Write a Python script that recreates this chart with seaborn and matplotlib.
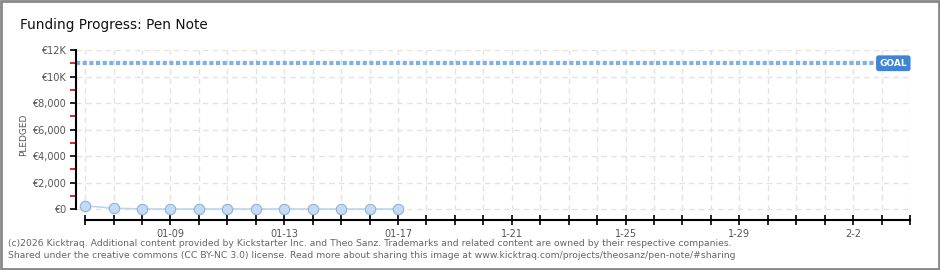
import matplotlib
matplotlib.use("Agg")
import matplotlib.pyplot as plt
import matplotlib.dates as mdates
import seaborn as sns
import pandas as pd
import numpy as np

# ---- data ----
dates = ["2026-01-06", "2026-01-07", "2026-01-08", "2026-01-09", "2026-01-10", "2026-01-11",
         "2026-01-12", "2026-01-13", "2026-01-14", "2026-01-15", "2026-01-16", "2026-01-17"]
pledged = [240, 60, 0, 0, 0, 0, 0, 0, 0, 0, 0, 0]
goal = 11000
xtick_dates = ["2026-01-09", "2026-01-13", "2026-01-17", "2026-01-21", "2026-01-25", "2026-01-29", "2026-02-02"]
xtick_labels = ["01-09", "01-13", "01-17", "1-21", "1-25", "1-29", "2-2"]
ytick_values = [0, 2000, 4000, 6000, 8000, 10000, 12000]
ytick_labels = ["€0", "€2,000", "€4,000", "€6,000", "€8,000", "€10K", "€12K"]
x_start, x_end = "2026-01-06", "2026-02-04"
title = "Funding Progress: Pen Note"
footer1 = ("(c)2026 Kicktraq. Additional content provided by Kickstarter Inc. and Theo Sanz. "
           "Trademarks and related content are owned by their respective companies.")
footer2 = ("Shared under the creative commons (CC BY-NC 3.0) license. Read more about sharing "
           "this image at www.kicktraq.com/projects/theosanz/pen-note/#sharing")

df = pd.DataFrame({"date": pd.to_datetime(dates), "pledged": pledged})

sns.set_theme(style="white")
plt.rcParams["font.family"] = ["DejaVu Sans"]

W, H = 940, 270
fig = plt.figure(figsize=(W / 100, H / 100), dpi=100)
ax = fig.add_axes([76 / W, 1 - 220 / H, (910 - 76) / W, (220 - 50) / H])

x0 = mdates.date2num(pd.Timestamp(x_start))
x1 = mdates.date2num(pd.Timestamp(x_end))
ax.set_xlim(x0 - 0.32, x1)
ax.set_ylim(-830, 12000)

all_days = pd.date_range(x_start, x_end, freq="D")

# grid
for d in all_days:
    ax.axvline(mdates.date2num(d), ymin=0.06, color="#e3e3e3", lw=1, ls=(0, (4, 3)), zorder=0)
for v in ytick_values:
    ax.axhline(v, color="#e3e3e3", lw=1, ls=(0, (4, 3)), zorder=0)

# goal line
ax.axhline(goal, color="#7fb0e8", lw=3, ls=(0, (1, 0.6)), zorder=2)
ax.text(x1 - 0.1, goal, "GOAL", color="white", fontsize=6.5, fontweight="bold",
        ha="right", va="center", zorder=4,
        bbox=dict(boxstyle="round,pad=0.3,rounding_size=0.2", fc="#3d85d6", ec="#3d85d6"))

# data
sns.lineplot(data=df, x="date", y="pledged", ax=ax, color="#b9d5f2", lw=1.2,
             marker="o", markersize=7.5, markerfacecolor="#c3dbf5",
             markeredgecolor="#8fb1d9", markeredgewidth=0.8, zorder=3)

ax.set_xlabel("")
ax.set_ylabel("PLEDGED", fontsize=6.5, color="#555555", labelpad=3)

# ticks: labelled days as major, the rest as minor
ax.set_xticks(mdates.date2num(pd.to_datetime(xtick_dates)))
ax.set_xticklabels(xtick_labels)
ax.set_xticks(mdates.date2num(all_days), minor=True)
ax.tick_params(axis="x", which="both", direction="inout", length=7, width=1.2, color="black", bottom=True)
ax.tick_params(axis="x", which="major", pad=3, labelsize=7, labelcolor="#555555")

ax.set_yticks(ytick_values)
ax.set_yticklabels(ytick_labels)
ax.set_yticks(np.arange(1000, 12000, 2000), minor=True)
ax.tick_params(axis="y", which="major", direction="out", length=4, width=1.2, color="black", left=True,
               labelsize=7, labelcolor="#555555", pad=3)
ax.tick_params(axis="y", which="minor", direction="out", length=4, width=1.2, color="#e00000", left=True)

for s in ["top", "right"]:
    ax.spines[s].set_visible(False)
ax.spines["left"].set_color("black")
ax.spines["left"].set_linewidth(1.5)
ax.spines["left"].set_bounds(0, 12000)
ax.spines["bottom"].set_color("black")
ax.spines["bottom"].set_linewidth(1.5)
ax.spines["bottom"].set_bounds(x0, x1)

# title and footer
fig.text(20 / W, 1 - 25 / H, title, fontsize=9.8, color="#111111", va="center", ha="left")
fig.text(8 / W, 1 - 243 / H, footer1, fontsize=6.65, color="#666666", va="center", ha="left")
fig.text(8 / W, 1 - 256 / H, footer2, fontsize=6.65, color="#666666", va="center", ha="left")

# outer frame
fig.patches.append(plt.Rectangle((0.001, 0.002), 0.998, 0.996, transform=fig.transFigure,
                                 fill=False, ec="#888888", lw=2))

fig.savefig("out.png", dpi=100)
